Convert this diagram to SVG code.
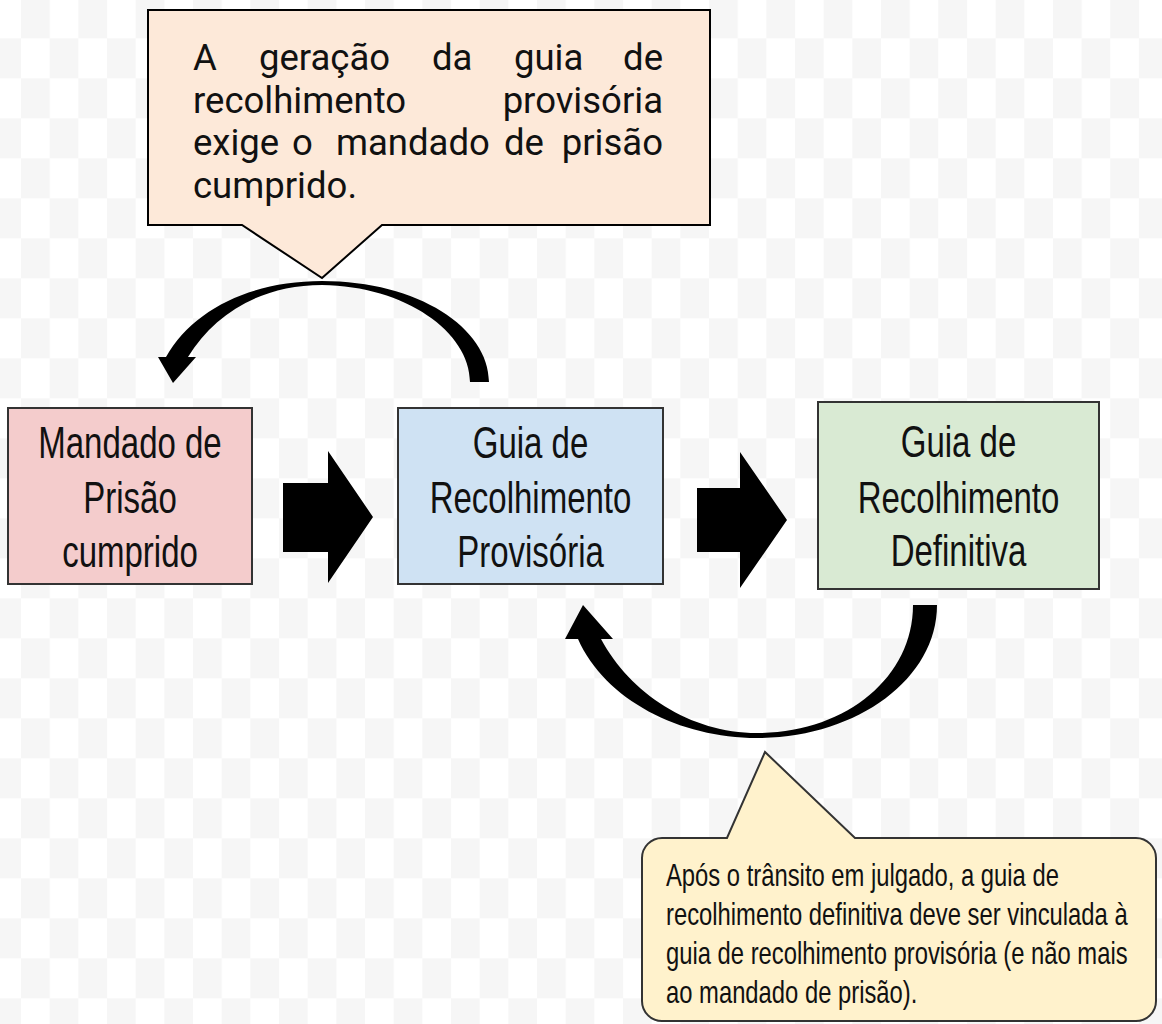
<svg xmlns="http://www.w3.org/2000/svg" width="1162" height="1024" viewBox="0 0 1162 1024">
<defs>
<pattern id="chk" x="21" y="-1.7" width="57.33" height="80" patternUnits="userSpaceOnUse">
<rect width="57.33" height="80" fill="#ffffff"/>
<rect width="28.67" height="40" fill="#f6f6f6"/>
<rect x="28.67" y="40" width="28.67" height="40" fill="#f6f6f6"/>
</pattern>
<style>
.node{stroke:#333333;stroke-width:2}
.nt{font-family:"Liberation Sans",Arial,sans-serif;font-size:44px;fill:#111111;text-anchor:middle}
.ct{font-family:Roboto,"Noto Sans",sans-serif;font-size:36.5px;fill:#111111}
.bt{font-family:"Liberation Sans",Arial,sans-serif;font-size:32px;fill:#111111}
.arr{fill:#000000}
</style>
</defs>
<rect width="1162" height="1024" fill="url(#chk)"/>

<g id="callout-top">
<path d="M148,10 H710 V225 H382 L322,278 L242,225 H148 Z" fill="#fde9d9" stroke="#000000" stroke-width="2"/>
<text class="ct" y="70"><tspan x="193">A</tspan><tspan x="259">geração</tspan><tspan x="432">da</tspan><tspan x="514">guia</tspan></text>
<text class="ct" y="70" x="663" text-anchor="end">de</text>
<text class="ct" y="112.5" x="193">recolhimento</text>
<text class="ct" y="112.5" x="663" text-anchor="end">provisória</text>
<text class="ct" y="155"><tspan x="193">exige</tspan><tspan x="292">o</tspan><tspan x="336">mandado</tspan><tspan x="504">de</tspan></text>
<text class="ct" y="155" x="663" text-anchor="end">prisão</text>
<text class="ct" y="197.5" x="193">cumprido.</text>
</g>

<g id="node-mandado">
<rect class="node" x="8" y="408" width="244" height="176" fill="#f4cccc"/>
<g transform="translate(130,0) scale(0.75,1)">
<text class="nt" x="0" y="458">Mandado de</text>
<text class="nt" x="0" y="513">Prisão</text>
<text class="nt" x="0" y="567">cumprido</text>
</g>
</g>

<g id="node-provisoria">
<rect class="node" x="398" y="408" width="265" height="176" fill="#cfe2f3"/>
<g transform="translate(530.5,0) scale(0.75,1)">
<text class="nt" x="0" y="458">Guia de</text>
<text class="nt" x="0" y="513">Recolhimento</text>
<text class="nt" x="0" y="567">Provisória</text>
</g>
</g>

<g id="node-definitiva">
<rect class="node" x="818" y="402" width="281" height="187" fill="#d9ead3"/>
<g transform="translate(958.5,0) scale(0.75,1)">
<text class="nt" x="0" y="457">Guia de</text>
<text class="nt" x="0" y="513">Recolhimento</text>
<text class="nt" x="0" y="566">Definitiva</text>
</g>
</g>

<g id="callout-bottom">
<path d="M662,838 H727 L765,752 L855,838 H1136 A20,20 0 0 1 1156,858 V1001 A20,20 0 0 1 1136,1021 H662 A20,20 0 0 1 642,1001 V858 A20,20 0 0 1 662,838 Z" fill="#fff2cc" stroke="#333333" stroke-width="2"/>
<g transform="translate(666,0) scale(0.744,1)">
<text class="bt" x="0" y="886">Após o trânsito em julgado, a guia de</text>
<text class="bt" x="0" y="925">recolhimento definitiva deve ser vinculada à</text>
<text class="bt" x="0" y="964">guia de recolhimento provisória (e não mais</text>
<text class="bt" x="0" y="1003">ao mandado de prisão).</text>
</g>
</g>

<g id="connectors">
<polygon class="arr" points="283,483 328,483 328,451 373,517 328,583 328,552 283,552"/>
<polygon class="arr" points="697,488 740,488 740,452 787,520 740,588 740,552 697,552"/>
<path class="arr" d="M489,382 L470,382 C470,332 405,286 322,285 C262,285 215,313 188,357 L196,357 L173,383 L158,357 L166,357 C193,309 252,281 322,281 C418,281 489,328 489,382 Z"/>
<path class="arr" d="M937,605 C937,680 855,738 757,738 C680,738 605,700 578,639 L565,639 L583,605 L613,639 L601,639 C630,693 690,733 757,733 C845,733 913,678 913,605 Z"/>
</g>
</svg>
